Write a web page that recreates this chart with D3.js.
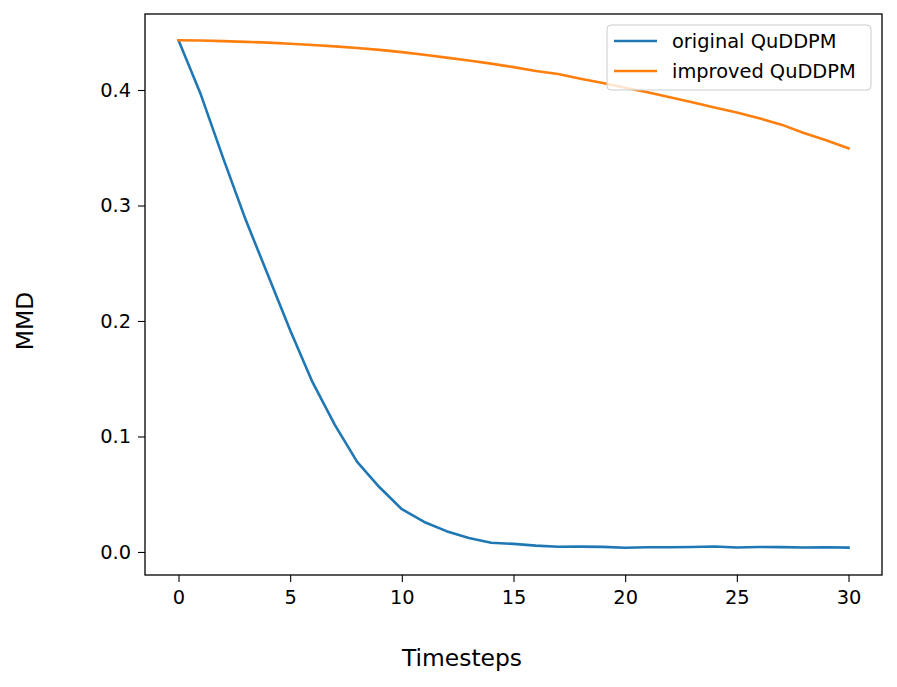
<!DOCTYPE html>
<html><head><meta charset="utf-8">
<script src="https://cdn.jsdelivr.net/npm/d3@7"></script>
<style>body{margin:0;background:#fff}svg{display:block;font-family:"DejaVu Sans",sans-serif}</style>
</head><body><svg id="c" width="897" height="687"></svg>
<script>
const timesteps = d3.range(0, 31);
const original = [0.443,0.396,0.341,0.288,0.240,0.192,0.147,0.110,0.078,0.056,0.037,0.026,0.018,0.012,0.008,0.007,0.0055,0.0045,0.0046,0.0044,0.0037,0.0041,0.0041,0.0043,0.0047,0.0039,0.0043,0.0042,0.0039,0.0041,0.0038];
const improved = [0.443,0.4428,0.4423,0.4417,0.441,0.4400,0.4390,0.4378,0.4363,0.4347,0.4328,0.4305,0.4280,0.4255,0.4228,0.4198,0.4165,0.4138,0.4098,0.4060,0.4020,0.3980,0.3938,0.3893,0.3848,0.3805,0.3755,0.3700,0.3628,0.3565,0.3495];
const seriesNames = ["original QuDDPM","improved QuDDPM"];
const colors = ["#1f77b4","#ff7f0e"];
const xTicks = [0,5,10,15,20,25,30];
const yTicks = [0.0,0.1,0.2,0.3,0.4];

const svg = d3.select("#c");
const L=145,R=882,T=14,B=575;
const x = d3.scaleLinear().domain([-1.5,31.5]).range([L,R]);
const y = d3.scaleLinear().domain([-0.01995,0.4658]).range([B,T]);

const gx = svg.append("g").attr("transform",`translate(0,${B})`)
  .call(d3.axisBottom(x).tickValues(xTicks).tickSize(7).tickPadding(8).tickFormat(d3.format("d")));
const gy = svg.append("g").attr("transform",`translate(${L},0)`)
  .call(d3.axisLeft(y).tickValues(yTicks).tickSize(7).tickPadding(7).tickFormat(d3.format(".1f")));
[gx,gy].forEach(g=>{
  g.select(".domain").remove();
  g.selectAll("line").attr("stroke","#000").attr("stroke-width",1.1);
  g.selectAll("text").attr("font-size",19.4).attr("fill","#000").attr("font-family","DejaVu Sans");
});

const line = d3.line().x((d,i)=>x(timesteps[i])).y(d=>y(d));
[original,improved].forEach((s,k)=>{
  svg.append("path").datum(s).attr("d",line).attr("fill","none")
    .attr("stroke",colors[k]).attr("stroke-width",2.6).attr("stroke-linejoin","round").attr("stroke-linecap","square");
});

svg.append("rect").attr("x",L).attr("y",T).attr("width",R-L).attr("height",B-T)
  .attr("fill","none").attr("stroke","#000").attr("stroke-width",1.3);

// legend
const lg = svg.append("g");
lg.append("rect").attr("x",607).attr("y",25).attr("width",264).attr("height",65).attr("rx",4)
  .attr("fill","#fff").attr("fill-opacity",0.8).attr("stroke","#ccc").attr("stroke-width",1);
seriesNames.forEach((n,i)=>{
  const yy = 41 + i*30;
  lg.append("line").attr("x1",614).attr("x2",657).attr("y1",yy).attr("y2",yy)
    .attr("stroke",colors[i]).attr("stroke-width",2.6);
  lg.append("text").attr("x",672).attr("y",yy).attr("dy","0.35em").attr("font-size",19.4).text(n);
});

svg.append("text").attr("x",462).attr("y",666).attr("text-anchor","middle")
  .attr("font-size",23.4).text("Timesteps");
svg.append("text").attr("transform","translate(33,321) rotate(-90)").attr("text-anchor","middle")
  .attr("font-size",23.4).text("MMD");
</script></body></html>
